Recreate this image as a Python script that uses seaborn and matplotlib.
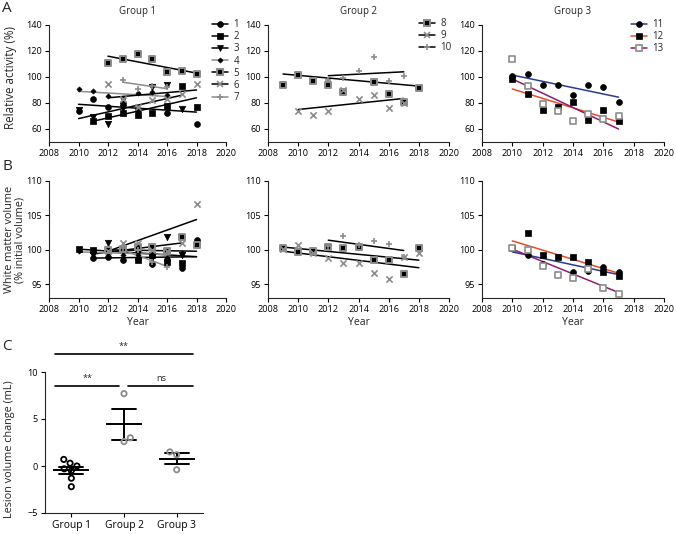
import matplotlib
matplotlib.use("Agg")
import matplotlib.pyplot as plt
from matplotlib.lines import Line2D
import pandas as pd
import seaborn as sns

# ---------------- data ----------------
year_ticks = [2008, 2010, 2012, 2014, 2016, 2018, 2020]
group_titles = ["Group 1", "Group 2", "Group 3"]
group_series = [["1", "2", "3", "4", "5", "6", "7"], ["8", "9", "10"], ["11", "12", "13"]]

# Panel A: relative activity (%)
act_years = {
    "1": [2010, 2011, 2012, 2013, 2014, 2016, 2018],
    "2": [2011, 2012, 2013, 2014, 2015, 2016, 2017, 2018],
    "3": [2010, 2011, 2012, 2013, 2014, 2015, 2016, 2017],
    "4": [2010, 2011, 2012, 2013, 2014, 2015, 2016],
    "5": [2012, 2013, 2014, 2015, 2016, 2017, 2018],
    "6": [2012, 2013, 2014, 2015, 2016, 2017, 2018],
    "7": [2013, 2014, 2015, 2016],
    "8": [2009, 2010, 2011, 2012, 2013, 2015, 2016, 2017, 2018],
    "9": [2010, 2011, 2012, 2013, 2014, 2015, 2016, 2017],
    "10": [2012, 2013, 2014, 2015, 2016, 2017],
    "11": [2010, 2011, 2012, 2013, 2014, 2015, 2016, 2017],
    "12": [2010, 2011, 2012, 2013, 2014, 2015, 2016, 2017],
    "13": [2010, 2011, 2012, 2013, 2014, 2015, 2016, 2017],
}
act_values = {
    "1": [74, 83, 77, 80, 75, 72, 63.6],
    "2": [66, 70, 72, 71, 72, 78, 93, 77],
    "3": [75, 69, 64, 76, 74, 92, 94, 75.5],
    "4": [90.5, 89.5, 85.5, 84, 88, 88.5, 86],
    "5": [111, 114, 118, 114, 104, 104.5, 102],
    "6": [95, 83, 77, 82, 83, 87, 95],
    "7": [98, 91, 93, 92],
    "8": [94, 101.5, 97, 94, 88.5, 96, 87, 81, 91.5],
    "9": [73.5, 71, 74, 90, 83, 86.5, 76, 80],
    "10": [97.5, 99.5, 105, 115.5, 97, 100.5],
    "11": [101, 102.3, 93.6, 94.1, 86, 93.6, 92.6, 80.6],
    "12": [98.2, 87.3, 74.8, 76.6, 80.9, 66.6, 74.8, 65.9],
    "13": [113.5, 93.1, 78.9, 73.8, 66.1, 71.7, 67.6, 69.9],
}
# trend lines: (start year, end year, start value, end value)
act_trend = {
    "1": (2010, 2018, 79, 73),
    "2": (2011, 2018, 66, 84),
    "3": (2010, 2017, 68, 86),
    "4": (2010, 2016, 89, 85),
    "5": (2012, 2018, 116, 103),
    "6": (2012, 2018, 84, 90),
    "7": (2013, 2016, 96, 91),
    "8": (2009, 2018, 102.3, 93),
    "9": (2010, 2017, 75, 83.5),
    "10": (2012, 2017, 101, 104),
    "11": (2010, 2017, 101.5, 84.5),
    "12": (2010, 2017, 90.8, 65.4),
    "13": (2010, 2017, 98.5, 60),
}

# Panel B: white matter volume (% initial volume)
wm_years = {
    "1": [2011, 2012, 2013, 2014, 2015, 2016, 2017, 2018],
    "2": [2010, 2011, 2012, 2013, 2014, 2015, 2016, 2017, 2018],
    "3": [2011, 2012, 2013, 2014, 2015, 2016, 2017],
    "4": [2010, 2011, 2012, 2013, 2014, 2015, 2016, 2017],
    "5": [2012, 2013, 2014, 2015, 2016, 2017, 2018],
    "6": [2012, 2013, 2014, 2015, 2016, 2017, 2018],
    "7": [2013, 2014, 2015, 2016],
    "8": [2009, 2010, 2011, 2012, 2013, 2014, 2015, 2016, 2017, 2018],
    "9": [2009, 2010, 2011, 2012, 2013, 2014, 2015, 2016, 2017, 2018],
    "10": [2012, 2013, 2014, 2015, 2016, 2017],
    "11": [2010, 2011, 2012, 2014, 2015, 2016, 2017],
    "12": [2010, 2011, 2012, 2013, 2014, 2015, 2016, 2017],
    "13": [2010, 2011, 2012, 2013, 2014, 2015, 2016, 2017],
}
wm_values = {
    "1": [98.8, 98.9, 98.5, 98.6, 97.9, 98.5, 97.4, 101.5],
    "2": [100.1, 100.0, 100.0, 100.1, 98.5, 99.3, 98.3, 98.1, 100.8],
    "3": [99.3, 101.0, 99.8, 99.5, 98.8, 101.9, 99.3],
    "4": [99.8, 99.5, 99.6, 99.3, 99.2, 99.0, 98.8, 99.5],
    "5": [100.0, 100.1, 100.4, 100.4, 99.8, 101.9, 100.7],
    "6": [99.8, 101.0, 101.0, 100.0, 99.8, 101.0, 106.7],
    "7": [100.2, 100.0, 98.2, 97.5],
    "8": [100.3, 99.7, 99.8, 100.4, 100.2, 100.4, 98.5, 98.5, 96.5, 100.3],
    "9": [100.1, 100.7, 99.5, 98.8, 98.1, 98.1, 96.6, 95.8, 98.9, 99.6],
    "10": [100.6, 102.0, 100.7, 101.3, 100.9, 98.9],
    "11": [100.2, 99.3, 98.0, 96.8, 96.9, 97.5, 96.8],
    "12": [100.3, 102.5, 99.2, 98.9, 98.9, 98.3, 96.8, 96.2],
    "13": [100.2, 100.0, 97.7, 96.4, 95.9, 97.2, 94.5, 93.6],
}
wm_trend = {
    "1": (2011, 2018, 98.8, 99.0),
    "2": (2010, 2018, 100.1, 99.0),
    "3": (2011, 2017, 99.4, 101.0),
    "4": (2010, 2016, 99.7, 99.3),
    "5": (2012, 2018, 100.0, 99.8),
    "6": (2012, 2018, 99.8, 104.4),
    "7": (2013, 2016, 100.0, 97.6),
    "8": (2009, 2018, 100.4, 98.5),
    "9": (2009, 2018, 99.8, 97.4),
    "10": (2012, 2017, 101.4, 99.9),
    "11": (2010, 2017, 99.7, 96.4),
    "12": (2010, 2017, 101.3, 96.6),
    "13": (2010, 2017, 100.1, 93.8),
}

# Panel C: lesion volume change (mL)
lesion_groups = ["Group 1", "Group 2", "Group 3"]
lesion_g1 = [0.3, 0.7, 0.0, -0.3, -0.5, -1.3, -2.2]
lesion_g2 = [7.7, 3.0, 2.6]
lesion_g3 = [1.2, 1.5, -0.4]

# ---------------- styles ----------------
GRAY = "#8c8c8c"
BLUE = "#2b3990"
RED = "#ec4a26"
PURPLE = "#8b1e6e"
series_style = {
    "1": dict(marker="o", ms=4.2, fc="black", ec="black", mew=0.5, line="black"),
    "2": dict(marker="s", ms=4.0, fc="black", ec="black", mew=0.5, line="black"),
    "3": dict(marker="v", ms=4.6, fc="black", ec="black", mew=0.5, line="black"),
    "4": dict(marker="D", ms=2.6, fc="black", ec="black", mew=0.5, line=GRAY),
    "5": dict(marker="s", ms=4.3, fc="black", ec=GRAY, mew=1.4, line="black"),
    "6": dict(marker="x", ms=4.5, fc=GRAY, ec=GRAY, mew=1.2, line="black"),
    "7": dict(marker="+", ms=5.0, fc=GRAY, ec=GRAY, mew=1.2, line=GRAY),
    "8": dict(marker="s", ms=4.3, fc="black", ec=GRAY, mew=1.4, line="black"),
    "9": dict(marker="x", ms=4.5, fc=GRAY, ec=GRAY, mew=1.2, line="black"),
    "10": dict(marker="+", ms=5.0, fc=GRAY, ec=GRAY, mew=1.2, line="black"),
    "11": dict(marker="o", ms=4.2, fc="black", ec="black", mew=0.5, line=BLUE),
    "12": dict(marker="s", ms=4.0, fc="black", ec="black", mew=0.5, line=RED),
    "13": dict(marker="s", ms=4.4, fc="white", ec=GRAY, mew=1.2, line=PURPLE),
}

sns.set_theme(style="ticks")
plt.rcParams["font.family"] = ["Open Sans", "DejaVu Sans"]
plt.rcParams["axes.linewidth"] = 0.8
FS = 6.6

W, H = 676, 534
fig = plt.figure(figsize=(W / 100, H / 100), dpi=100)


def px_axes(x0, x1, ytop, ybot):
    return fig.add_axes([x0 / W, 1 - ybot / H, (x1 - x0) / W, (ybot - ytop) / H])


def style_axes(ax, fs=FS):
    sns.despine(ax=ax)
    ax.tick_params(length=3, width=0.8, labelsize=fs, pad=2, colors="black")
    ax.grid(False)


def draw_series(ax, key, xs, ys, trend):
    st = series_style[key]
    x0, x1, y0, y1 = trend
    sns.lineplot(x=[x0, x1], y=[y0, y1], color=st["line"], linewidth=1.1, ax=ax, zorder=2)
    if st["marker"] in ("x", "+"):
        sns.scatterplot(x=xs, y=ys, marker=st["marker"], s=st["ms"] ** 2, color=st["ec"],
                        linewidth=st["mew"], ax=ax, zorder=3)
    else:
        sns.scatterplot(x=xs, y=ys, marker=st["marker"], s=st["ms"] ** 2, color=st["fc"],
                        edgecolor=st["ec"], linewidth=st["mew"], ax=ax, zorder=3)


xcols = [(49, 226), (268, 449), (482, 664)]
legend_anchor = [(212, 19), (419, 18), (631, 19)]

for gi, (xa, xb) in enumerate(xcols):
    axA = px_axes(xa, xb, 25, 142)
    axB = px_axes(xa, xb, 181, 298)
    for key in group_series[gi]:
        draw_series(axA, key, act_years[key], act_values[key], act_trend[key])
        draw_series(axB, key, wm_years[key], wm_values[key], wm_trend[key])
    for ax in (axA, axB):
        ax.set_xlim(2008, 2020)
        ax.set_xticks(year_ticks)
        style_axes(ax)
    axA.set_ylim(50, 140)
    axA.set_yticks([60, 80, 100, 120, 140])
    axB.set_ylim(93, 110)
    axB.set_yticks([95, 100, 105, 110])
    axA.set_xlabel("")
    axB.set_xlabel("Year", fontsize=7.6, labelpad=2)
    axA.set_title(group_titles[gi], fontsize=7, pad=8)
    if gi == 0:
        axA.set_ylabel("Relative activity (%)", fontsize=8.4)
        axA.yaxis.set_label_coords(-0.18, 0.55)
        axB.set_ylabel("White matter volume\n(% initial volume)", fontsize=7.8, linespacing=1.05)
        axB.yaxis.set_label_coords(-0.13, 0.5)

    handles = []
    for key in group_series[gi]:
        st = series_style[key]
        handles.append(Line2D([], [], color=st["line"], lw=1.1, marker=st["marker"],
                              markersize=st["ms"], markerfacecolor=st["fc"],
                              markeredgecolor=st["ec"], markeredgewidth=st["mew"]))
    lx, ly = legend_anchor[gi]
    axA.legend(handles, group_series[gi], loc="upper left",
               bbox_to_anchor=(lx / W, 1 - ly / H), bbox_transform=fig.transFigure,
               frameon=False, fontsize=7, handlelength=1.6, handletextpad=0.6,
               labelspacing=0.12, borderpad=0, borderaxespad=0)

# ---------------- panel C ----------------
axC = px_axes(45, 203, 372, 513)
df = pd.DataFrame({
    "group": ["Group 1"] * len(lesion_g1) + ["Group 2"] * len(lesion_g2) + ["Group 3"] * len(lesion_g3),
    "value": lesion_g1 + lesion_g2 + lesion_g3,
})
sns.pointplot(data=df, x="group", y="value", order=lesion_groups, errorbar="se",
              capsize=0.45, color="black", linestyle="none", marker="_",
              markersize=26, markeredgewidth=1.4, err_kws={"linewidth": 1.4}, ax=axC, zorder=2)
sns.swarmplot(data=df, x="group", y="value", order=lesion_groups, hue="group",
              palette={"Group 1": "black", "Group 2": GRAY, "Group 3": GRAY},
              size=3.8, legend=False, ax=axC, zorder=3)
for coll in axC.collections:
    fc = coll.get_facecolors()
    coll.set_edgecolors(fc)
    coll.set_facecolors("none")
    coll.set_linewidth(1.3)
axC.set_xlim(-0.5, 2.5)
axC.set_ylim(-5, 10)
axC.set_yticks([-5, 0, 5, 10])
axC.set_xlabel("")
axC.set_ylabel("Lesion volume change (mL)", fontsize=7.8)
axC.yaxis.set_label_coords(-0.19, 0.45)
style_axes(axC, fs=7.4)
axC.tick_params(axis="y", labelsize=FS)

# significance annotations
sig_lines = [(-0.31, 2.31, 11.9, "**", 1.0), (-0.31, 0.90, 8.5, "**", 0.30), (1.07, 2.31, 8.5, "ns", 1.70)]
for xa, xb, yy, lab, xt in sig_lines:
    axC.plot([xa, xb], [yy, yy], color="black", lw=1.2, clip_on=False)
    axC.text(xt, yy + 0.35, lab, ha="center", va="bottom", fontsize=FS)

# panel letters
fig.text(2 / W, 1 - 8 / H, "A", fontsize=11, va="center", ha="left")
fig.text(2 / W, 1 - 167 / H, "B", fontsize=11, va="center", ha="left")
fig.text(2 / W, 1 - 347 / H, "C", fontsize=11, va="center", ha="left")

fig.savefig("out.png", dpi=100)
